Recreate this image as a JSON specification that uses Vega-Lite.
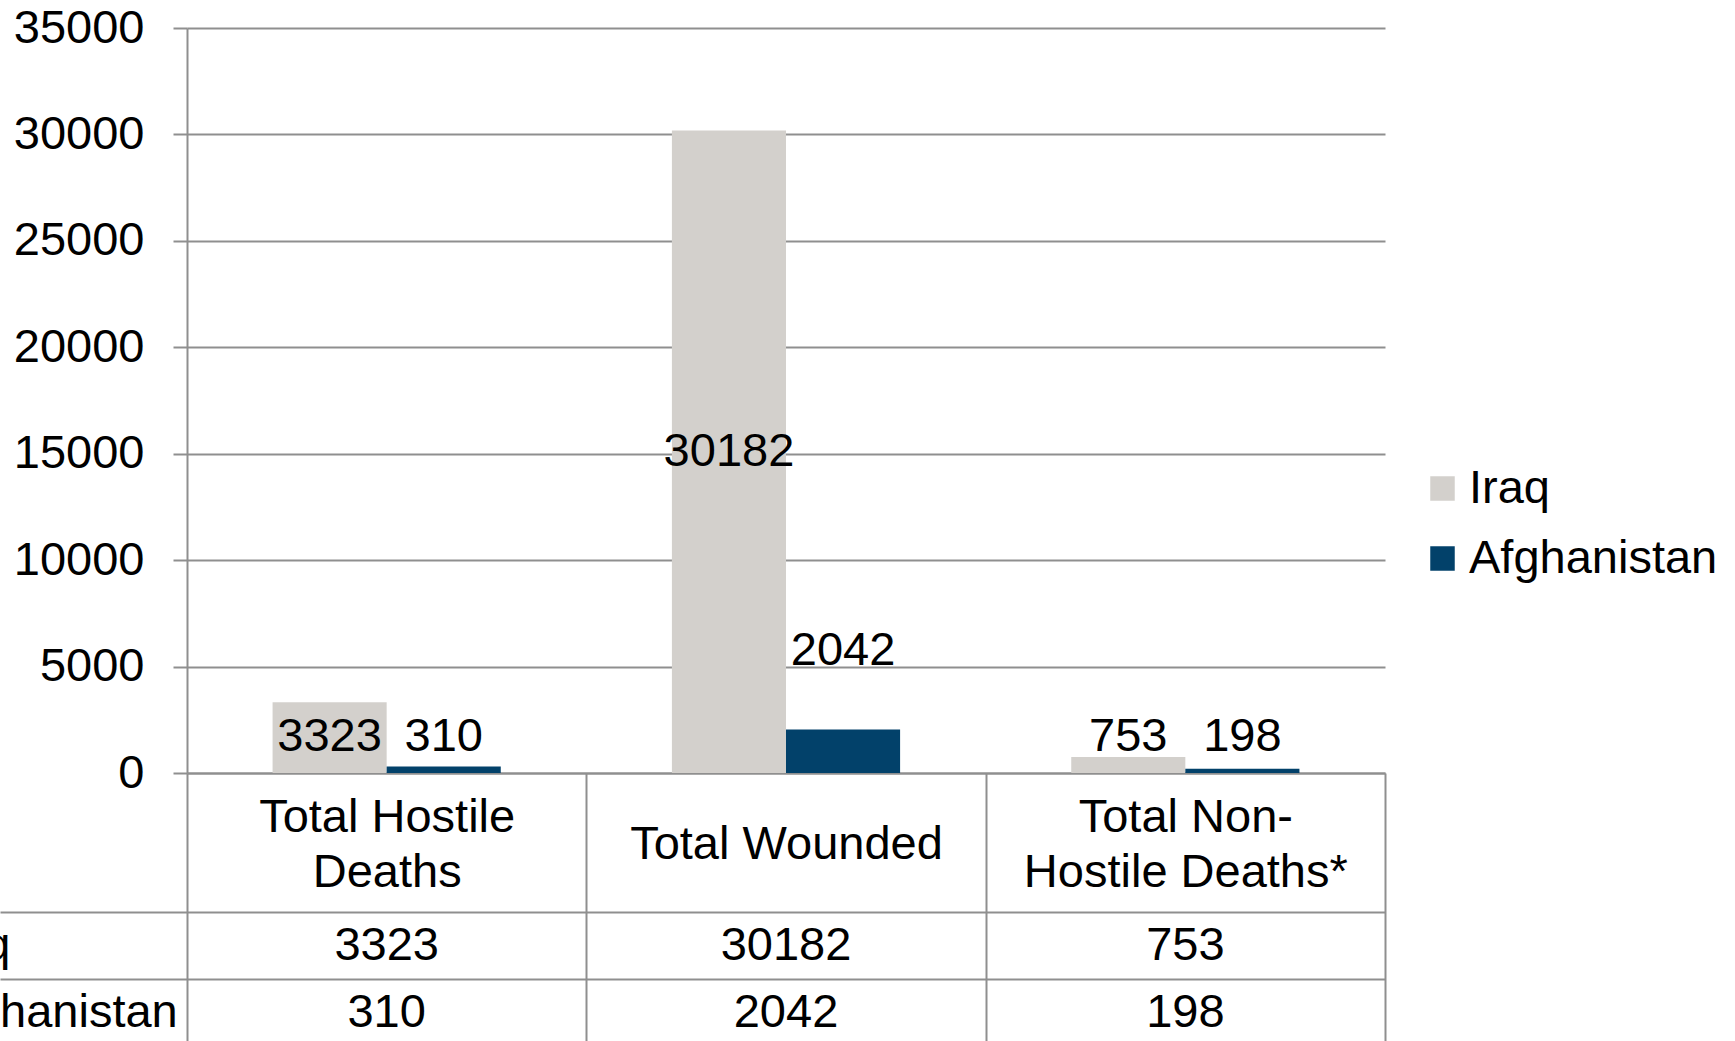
{
  "$schema": "https://vega.github.io/schema/vega-lite/v6.json",
  "width": 1198,
  "height": 745,
  "autosize": {"type": "none"},
  "padding": {"left": 187, "top": 28, "right": 350, "bottom": 268},
  "background": "white",
  "config": {
    "view": {"stroke": null},
    "font": "Liberation Sans",
    "text": {"font": "Liberation Sans"}
  },
  "data": {
    "values": [
      {"category": "Total Hostile Deaths", "country": "Iraq", "value": 3323},
      {"category": "Total Hostile Deaths", "country": "Afghanistan", "value": 310},
      {"category": "Total Wounded", "country": "Iraq", "value": 30182},
      {"category": "Total Wounded", "country": "Afghanistan", "value": 2042},
      {"category": "Total Non-Hostile Deaths*", "country": "Iraq", "value": 753},
      {"category": "Total Non-Hostile Deaths*", "country": "Afghanistan", "value": 198}
    ]
  },
  "encoding": {
    "x": {
      "field": "category",
      "type": "nominal",
      "sort": ["Total Hostile Deaths", "Total Wounded", "Total Non-Hostile Deaths*"],
      "scale": {"paddingInner": 0, "paddingOuter": 0},
      "axis": {
        "orient": "bottom",
        "title": null,
        "labelAngle": 0,
        "grid": false,
        "domain": true,
        "domainColor": "#8f8f8f",
        "domainWidth": 2,
        "ticks": true,
        "tickBand": "extent",
        "tickSize": 268,
        "tickColor": "#8f8f8f",
        "tickWidth": 2,
        "labelExpr": "datum.value == 'Total Hostile Deaths' ? ['Total Hostile', 'Deaths'] : datum.value == 'Total Non-Hostile Deaths*' ? ['Total Non-', 'Hostile Deaths*'] : datum.label",
        "labelFont": "Liberation Sans",
        "labelFontSize": 47,
        "labelLineHeight": 55,
        "labelBaseline": "middle",
        "labelPadding": {"condition": {"test": "datum.value == 'Total Wounded'", "value": -196.5}, "value": -224},
        "labelLimit": 0,
        "labelColor": "#000000",
        "labelOverlap": false
      }
    }
  },
  "layer": [
    {
      "layer": [
        {
          "mark": {"type": "bar"},
          "encoding": {
            "xOffset": {
              "field": "country",
              "type": "nominal",
              "sort": ["Iraq", "Afghanistan"],
              "scale": {"paddingOuter": 0.75, "paddingInner": 0}
            },
            "y": {
              "field": "value",
              "type": "quantitative",
              "scale": {"domain": [0, 35000], "nice": false},
              "axis": {
                "orient": "left",
                "title": null,
                "values": [0, 5000, 10000, 15000, 20000, 25000, 30000, 35000],
                "format": "d",
                "grid": true,
                "gridColor": "#8f8f8f",
                "gridWidth": 2,
                "domain": true,
                "domainColor": "#8f8f8f",
                "domainWidth": 2,
                "tickSize": 14,
                "tickColor": "#8f8f8f",
                "tickWidth": 2,
                "labelFont": "Liberation Sans",
                "labelFontSize": 47,
                "labelPadding": 29,
                "labelColor": "#000000",
                "labelBaseline": "middle"
              }
            },
            "color": {
              "field": "country",
              "type": "nominal",
              "scale": {"domain": ["Iraq", "Afghanistan"], "range": ["#D3D0CC", "#02416A"]},
              "legend": {
                "title": null,
                "orient": "none",
                "legendX": 1232,
                "legendY": 437,
                "symbolType": "square",
                "symbolSize": 600,
                "symbolStrokeWidth": 0,
                "labelFont": "Liberation Sans",
                "labelFontSize": 47,
                "labelOffset": 3,
                "labelLimit": 0,
                "rowPadding": 22,
                "labelColor": "#000000"
              }
            }
          }
        },
        {
          "transform": [
            {"calculate": "datum.country == 'Iraq' ? max(datum.value / 2, 1700) : max(datum.value * 2.816, 1700)", "as": "labelPos"}
          ],
          "mark": {"type": "text", "fontSize": 47, "baseline": "middle", "align": "center", "color": "#000000", "font": "Liberation Sans"},
          "encoding": {
            "xOffset": {
              "field": "country",
              "type": "nominal",
              "sort": ["Iraq", "Afghanistan"],
              "scale": {"paddingOuter": 0.75, "paddingInner": 0}
            },
            "y": {
              "field": "labelPos",
              "type": "quantitative",
              "scale": {"domain": [0, 35000], "nice": false},
              "axis": {"title": null}
            },
            "text": {"field": "value", "type": "quantitative", "format": "d"}
          }
        }
      ]
    },
    {
      "mark": {"type": "text", "fontSize": 47, "baseline": "middle", "align": "center", "color": "#000000", "font": "Liberation Sans"},
      "encoding": {
        "y": {
          "field": "country",
          "type": "nominal",
          "scale": {"domain": ["Iraq", "Afghanistan"], "range": [884, 1018], "paddingInner": 0, "paddingOuter": 0},
          "axis": {
            "orient": "left",
            "title": null,
            "domain": false,
            "ticks": true,
            "tickBand": "extent",
            "tickSize": 187,
            "tickColor": "#8f8f8f",
            "tickWidth": 2,
            "grid": true,
            "gridColor": "#8f8f8f",
            "gridWidth": 2,
            "labelAlign": "left",
            "labelBaseline": "middle",
            "labelPadding": 71,
            "labelFont": "Liberation Sans",
            "labelFontSize": 47,
            "labelLimit": 0,
            "labelColor": "#000000"
          }
        },
        "text": {"field": "value", "type": "quantitative", "format": "d"}
      }
    }
  ],
  "resolve": {"scale": {"y": "independent"}, "axis": {"y": "independent"}}
}
